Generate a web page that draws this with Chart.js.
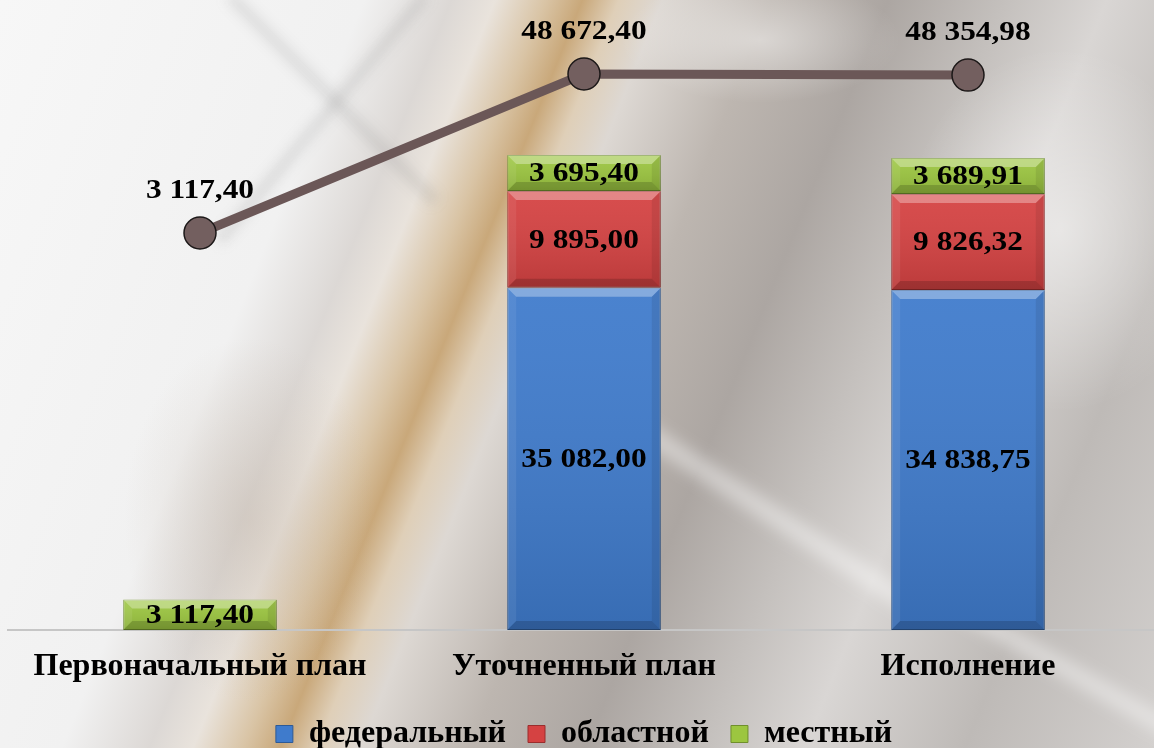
<!DOCTYPE html>
<html>
<head>
<meta charset="utf-8">
<title>Бюджет</title>
<script src="https://cdn.jsdelivr.net/npm/chart.js@4.4.1/dist/chart.umd.min.js"></script>
<style>
  html, body { margin: 0; padding: 0; }
  body {
    width: 1154px;
    height: 748px;
    overflow: hidden;
    position: relative;
    background:
      radial-gradient(ellipse 220px 260px at 1060px 230px, rgba(255,255,255,0.5), transparent 70%),
      radial-gradient(ellipse 200px 90px at 760px 40px, rgba(255,255,255,0.45), transparent 70%),
      radial-gradient(ellipse 180px 260px at 250px 520px, rgba(190,175,160,0.35), transparent 70%),
      linear-gradient(112deg, #f7f7f7 0%, #f1f1f1 25%, #dcd8d5 31%, #e9e3dc 34%, #d9c4a5 37.5%, #c9a87a 40%, #dfcfb8 42.5%, #ddd8d3 45.5%, #bdb6b0 53%, #aca6a2 61%, #c4c0bd 69%, #d9d6d4 76%, #bebab7 87%, #d3d0ce 100%);
  }
  .streak { position: absolute; background: rgba(110,110,110,0.17); filter: blur(6px); transform-origin: 0 50%; }
  .light { position: absolute; background: rgba(255,255,255,0.45); filter: blur(8px); transform-origin: 0 50%; }
  #wrap { position: absolute; left: 0; top: 0; width: 1160px; height: 760px; }
</style>
</head>
<body>
<div class="streak" style="left:230px; top:-10px; width:290px; height:12px; transform: rotate(45deg);"></div>
<div class="streak" style="left:425px; top:-10px; width:320px; height:12px; transform: rotate(130deg);"></div>
<div class="light" style="left:640px; top:420px; width:330px; height:18px; transform: rotate(33deg);"></div>
<div class="light" style="left:960px; top:600px; width:260px; height:16px; transform: rotate(30deg);"></div>
<div id="wrap"><canvas id="budget" width="1160" height="760"></canvas></div>
<script>
var categories = ['Первоначальный план', 'Уточненный план', 'Исполнение']
var federal = [null, 35082.00, 34838.75]
var regional = [null, 9895.00, 9826.32]
var local = [3117.40, 3695.40, 3689.91]
var totals = [3117.40, 48672.40, 48354.98]

var serif = "'Liberation Serif', 'Times New Roman', serif"

// 48672.4 -> "48 672,40"
function fmt(v) {
  var parts = v.toFixed(2).split('.')
  var whole = parts[0].replace(/\B(?=(\d{3})+(?!\d))/g, ' ')
  return whole + ',' + parts[1]
}

// light top/left edges, dark bottom/right edges on every bar segment
var bevel = {
  id: 'bevel',
  afterDatasetDraw: function(chart, args) {
    if (args.meta.type !== 'bar') return
    var ctx = chart.ctx
    args.meta.data.forEach(function(el, j) {
      if (chart.data.datasets[args.index].data[j] == null) return
      var l = el.x - el.width / 2, r = el.x + el.width / 2
      var t = Math.min(el.y, el.base), b = Math.max(el.y, el.base)
      var d = Math.min(9, (b - t) / 3)
      ctx.save()
      var g = ctx.createLinearGradient(0, t, 0, b)
      g.addColorStop(0, 'rgba(255,255,255,0.06)')
      g.addColorStop(1, 'rgba(0,0,0,0.12)')
      ctx.fillStyle = g
      ctx.fillRect(l, t, r - l, b - t)
      function quad(pts, c) {
        ctx.beginPath()
        ctx.moveTo(pts[0], pts[1])
        for (var k = 2; k < pts.length; k += 2) ctx.lineTo(pts[k], pts[k + 1])
        ctx.closePath()
        ctx.fillStyle = c
        ctx.fill()
      }
      quad([l, t, r, t, r - d, t + d, l + d, t + d], 'rgba(255,255,255,0.32)')
      quad([l, t, l + d, t + d, l + d, b - d, l, b], 'rgba(255,255,255,0.07)')
      quad([r, t, r - d, t + d, r - d, b - d, r, b], 'rgba(0,0,0,0.08)')
      quad([l, b, l + d, b - d, r - d, b - d, r, b], 'rgba(0,0,0,0.16)')
      ctx.restore()
    })
  }
}

// values inside the bar segments and above the total points
var valueLabels = {
  id: 'valueLabels',
  afterDatasetsDraw: function(chart) {
    var ctx = chart.ctx
    ctx.save()
    ctx.font = 'bold 28px ' + serif
    ctx.fillStyle = '#000'
    ctx.textAlign = 'center'
    ctx.textBaseline = 'middle'
    chart.data.datasets.forEach(function(ds, i) {
      var meta = chart.getDatasetMeta(i)
      meta.data.forEach(function(el, j) {
        var v = ds.data[j]
        if (v == null) return
        var y = ds.type === 'line' ? el.y - 43 : (el.y + el.base) / 2
        ctx.save()
        ctx.translate(el.x, y)
        ctx.scale(1.12, 1)
        ctx.fillText(fmt(v), 0, 1)
        ctx.restore()
      })
    })
    ctx.restore()
  }
}

var ctx = document.getElementById('budget').getContext('2d')
var chart = new Chart(ctx, {
  data: {
    labels: categories,
    datasets: [
      {
        type: 'line',
        label: 'итого',
        data: totals,
        yAxisID: 'y2',
        order: 0,
        borderColor: '#6b5757',
        borderWidth: 9,
        pointRadius: 16,
        pointBackgroundColor: '#735f5f',
        pointBorderColor: '#1c1818',
        pointBorderWidth: 1.5,
        tension: 0,
        clip: false
      },
      {
        type: 'bar',
        label: 'федеральный',
        data: federal,
        yAxisID: 'y',
        order: 1,
        backgroundColor: '#3f7bcc',
        borderColor: '#2d5a96',
        borderWidth: 1,
        borderSkipped: false
      },
      {
        type: 'bar',
        label: 'областной',
        data: regional,
        yAxisID: 'y',
        order: 1,
        backgroundColor: '#d54242',
        borderColor: '#9a2d2d',
        borderWidth: 1,
        borderSkipped: false
      },
      {
        type: 'bar',
        label: 'местный',
        data: local,
        yAxisID: 'y',
        order: 1,
        backgroundColor: '#9cc640',
        borderColor: '#6f8f2c',
        borderWidth: 1,
        borderSkipped: false
      }
    ]
  },
  options: {
    responsive: false,
    animation: false,
    layout: { autoPadding: false, padding: { left: 8, right: 0, top: 0, bottom: 0 } },
    datasets: {
      bar: { categoryPercentage: 1, barPercentage: 0.4 }
    },
    scales: {
      x: {
        stacked: true,
        offset: true,
        grid: { display: false, drawTicks: false },
        border: { display: true, color: '#c6c6c6', width: 2 },
        ticks: {
          color: '#000',
          padding: 18,
          font: { family: serif, size: 32, weight: 'bold' }
        },
        afterFit: function(scale) { scale.height = 66 }
      },
      y: {
        stacked: true,
        display: false,
        min: 0,
        max: 64556
      },
      y2: {
        display: false,
        min: -110627,
        max: 69873
      }
    },
    plugins: {
      tooltip: { enabled: false },
      legend: {
        position: 'bottom',
        labels: {
          color: '#000',
          boxWidth: 17,
          boxHeight: 17,
          padding: 22,
          font: { family: serif, size: 32, weight: 'bold' },
          filter: function(item) { return item.datasetIndex > 0 }
        }
      }
    }
  },
  plugins: [bevel, valueLabels]
})
</script>
</body>
</html>
